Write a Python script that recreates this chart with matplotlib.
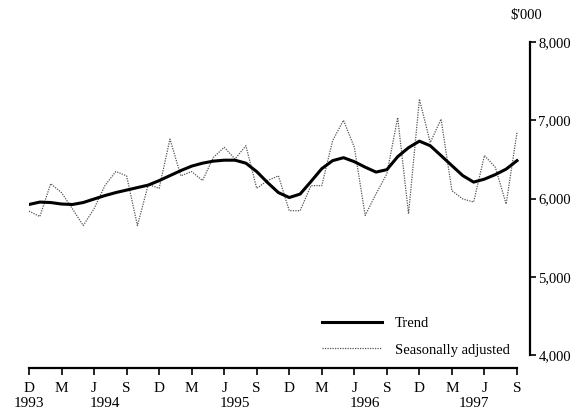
import matplotlib.pyplot as plt
from matplotlib.transforms import blended_transform_factory

# ── Data: monthly, Dec 1993 (month 0) to Sep 1997 (month 45), $'000 ──

months = list(range(46))

trend = [
    5924, 5955, 5949, 5930, 5924, 5949, 5994, 6038, 6076, 6108,
    6140, 6172, 6229, 6293, 6357, 6414, 6452, 6478, 6490, 6490,
    6452, 6344, 6204, 6076, 6013, 6057, 6217, 6382, 6484, 6522,
    6471, 6401, 6338, 6369, 6535, 6650, 6733, 6675, 6548, 6420,
    6293, 6210, 6248, 6306, 6376, 6484,
]

seas_adj = [
    5840, 5770, 6190, 6075, 5870, 5655, 5870, 6165, 6345, 6290,
    5655, 6180, 6130, 6760, 6290, 6345, 6230, 6525, 6655, 6505,
    6675, 6130, 6230, 6290, 5845, 5845, 6165, 6165, 6740, 7000,
    6655, 5785, 6060, 6315, 7035, 5805, 7270, 6715, 7015, 6100,
    5995, 5955, 6550, 6400, 5930, 6845,
]

tick_months = list(range(0, 46, 3))
tick_labels = ["D", "M", "J", "S"] * 4
year_pos = [0, 7, 19, 31, 41]
year_labels = ["1993", "1994", "1995", "1996", "1997"]
y_ticks = [4000, 5000, 6000, 7000, 8000]
y_labels = ["4,000", "5,000", "6,000", "7,000", "8,000"]

SERIF = "Liberation Serif"

fig = plt.figure(figsize=(5.87, 4.18), dpi=100)
ax = fig.add_axes([29 / 587, (418 - 368) / 418, (530 - 29) / 587, (368 - 42) / 418])

ax.plot(months, seas_adj, color="#555555", lw=0.9, ls=(0, (1, 1)),
        label="Seasonally adjusted")
ax.plot(months, trend, color="black", lw=2.2, label="Trend")

ax.set_xlim(0, 46.2)
ax.set_ylim(3835, 8000)

for side in ["top", "left"]:
    ax.spines[side].set_visible(False)
ax.spines["bottom"].set_bounds(0, 45)
ax.spines["right"].set_bounds(4000, 8000)
ax.spines["bottom"].set_linewidth(1.6)
ax.spines["right"].set_linewidth(1.6)

ax.set_xticks(tick_months)
ax.set_xticklabels(tick_labels, fontsize=11, family=SERIF)
ax.tick_params(axis="x", direction="out", length=5, width=1.2, pad=5)

ax.yaxis.tick_right()
ax.set_yticks(y_ticks)
ax.set_yticklabels(y_labels, fontsize=10.5, family=SERIF)
ax.tick_params(axis="y", direction="out", length=4, width=1.2, pad=2)

trans = blended_transform_factory(ax.transData, ax.transAxes)
for m, yr in zip(year_pos, year_labels):
    ax.text(m, -0.09, yr, transform=trans, ha="center", va="top",
            fontsize=11, family=SERIF)

fig.text(510 / 587, 1 - 16 / 418, "$'000", ha="left", va="center",
         fontsize=10.5, family=SERIF)

handles, labels = ax.get_legend_handles_labels()
leg = ax.legend(handles[::-1], labels[::-1], loc="lower left",
                bbox_to_anchor=(0.585, 0.035), frameon=False,
                handlelength=4.1, handletextpad=0.9, labelspacing=0.9,
                borderpad=0, borderaxespad=0,
                prop={"family": SERIF, "size": 10.5})

fig.savefig("out.png", dpi=100, facecolor="white")
